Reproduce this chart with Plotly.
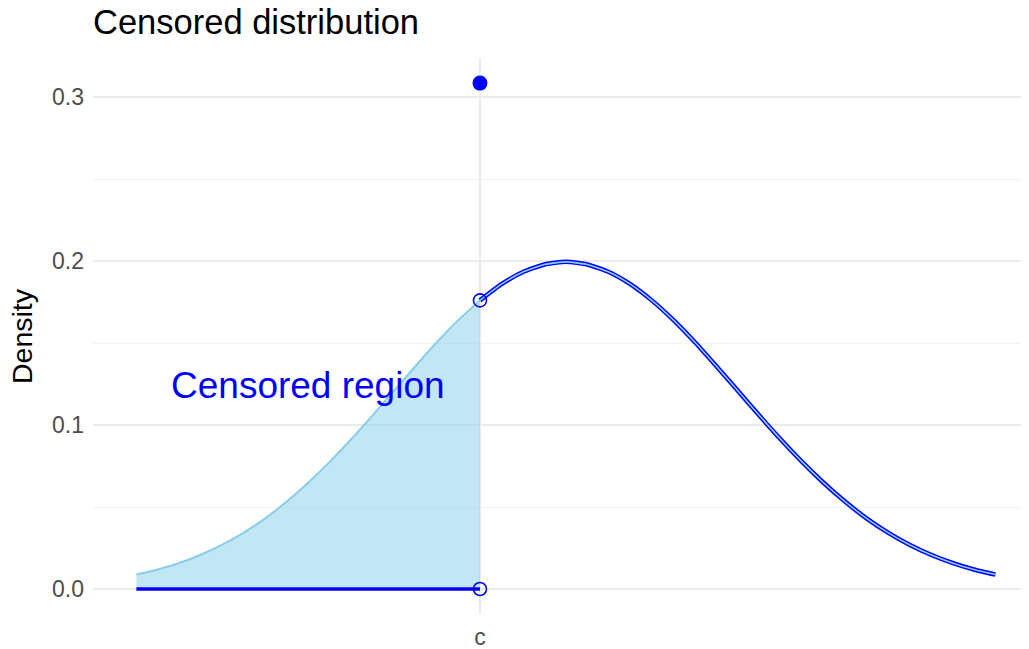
import plotly.graph_objects as go

# Values (c placed at 0)
x_vals = [-4.0, -3.75, -3.5, -3.25, -3.0, -2.75, -2.5, -2.25, -2.0, -1.75, -1.5,
          -1.25, -1.0, -0.75, -0.5, -0.25, 0.0,
          0.25, 0.5, 0.75, 1.0, 1.25, 1.5, 1.75, 2.0, 2.25, 2.5, 2.75, 3.0,
          3.25, 3.5, 3.75, 4.0, 4.25, 4.5, 4.75, 5.0, 5.25, 5.5, 5.75, 6.0]
density = [0.0088, 0.0119, 0.0159, 0.0209, 0.0270, 0.0344, 0.0431, 0.0533, 0.0648,
           0.0775, 0.0913, 0.1059, 0.1210, 0.1360, 0.1506, 0.1641, 0.1760,
           0.1859, 0.1933, 0.1979, 0.1995, 0.1979, 0.1933, 0.1859, 0.1760,
           0.1641, 0.1506, 0.1360, 0.1210, 0.1059, 0.0913, 0.0775, 0.0648,
           0.0533, 0.0431, 0.0344, 0.0270, 0.0209, 0.0159, 0.0119, 0.0088]
c_value = 0.0
censored_mass = 0.3085
y_ticks = [0.0, 0.1, 0.2, 0.3]
y_tick_labels = ["0.0", "0.1", "0.2", "0.3"]
x_tick_labels = ["c"]

left_x = [x for x in x_vals if x <= c_value]
left_y = [d for x, d in zip(x_vals, density) if x <= c_value]
right_x = [x for x in x_vals if x >= c_value]
right_y = [d for x, d in zip(x_vals, density) if x >= c_value]

BLUE = "#0000FF"
SKY = "#87CEEB"
FONT = "Liberation Sans, Arial, Helvetica"

# page body has an 8px margin: figure is sized/placed to compensate
W, H, OFF = 1021, 641, 8

fig = go.Figure()

# censored region area
fig.add_trace(go.Scatter(
    x=left_x, y=left_y, mode="lines",
    line=dict(color=SKY, width=2, shape="spline", smoothing=0.5),
    fill="tozeroy", fillcolor="rgba(135,206,235,0.5)", hoverinfo="skip"))

# zero line under censored region
fig.add_trace(go.Scatter(
    x=[left_x[0], c_value], y=[0, 0], mode="lines",
    line=dict(color=BLUE, width=3.5), hoverinfo="skip"))

# uncensored density (outlined line)
fig.add_trace(go.Scatter(
    x=right_x, y=right_y, mode="lines",
    line=dict(color=BLUE, width=4.5, shape="spline", smoothing=0.5)))
fig.add_trace(go.Scatter(
    x=right_x, y=right_y, mode="lines",
    line=dict(color=SKY, width=1.6, shape="spline", smoothing=0.5)))

# open circles at c
fig.add_trace(go.Scatter(
    x=[c_value, c_value], y=[left_y[-1], 0], mode="markers",
    marker=dict(symbol="circle-open", size=13, color=BLUE, line=dict(width=1.6))))

# point mass at c
fig.add_trace(go.Scatter(
    x=[c_value], y=[censored_mass], mode="markers",
    marker=dict(symbol="circle", size=15, color=BLUE)))

fig.add_annotation(x=-2.0, y=0.124, text="Censored region", showarrow=False,
                   font=dict(size=37, color=BLUE, family=FONT))

# y-axis title
fig.add_annotation(xref="paper", yref="paper", x=0, y=0.5, xshift=-71,
                   xanchor="center", yanchor="middle",
                   text="Density", textangle=-90, showarrow=False,
                   font=dict(size=28.5, color="black", family=FONT))

fig.update_layout(
    width=W, height=H,
    margin=dict(l=93 - OFF, r=7, t=58 - OFF, b=35),
    plot_bgcolor="white", paper_bgcolor="white",
    showlegend=False,
    font=dict(family=FONT, color="#4D4D4D"),
    title=dict(text="Censored distribution", x=(93 - OFF) / W, xanchor="left",
               y=1 - (22 - OFF) / H, yanchor="middle",
               font=dict(size=34.5, color="black", family=FONT)),
    xaxis=dict(range=[-4.505, 6.31], tickvals=[c_value], ticktext=x_tick_labels,
               showgrid=True, gridcolor="#EBEBEB", gridwidth=2, zeroline=False,
               showline=False, ticks="", automargin=False,
               ticklabelstandoff=7,
               tickfont=dict(size=23, color="#4D4D4D")),
    yaxis=dict(range=[-0.01524, 0.3238], tickvals=y_ticks, ticktext=y_tick_labels,
               showgrid=True, gridcolor="#EBEBEB", gridwidth=2, zeroline=False,
               showline=False, ticks="", automargin=False,
               tickfont=dict(size=23, color="#4D4D4D"),
               ticklabelstandoff=8,
               minor=dict(tickvals=[0.05, 0.15, 0.25], showgrid=True,
                          gridcolor="#F3F3F3", gridwidth=1)),
)

fig.write_html("out.html")
